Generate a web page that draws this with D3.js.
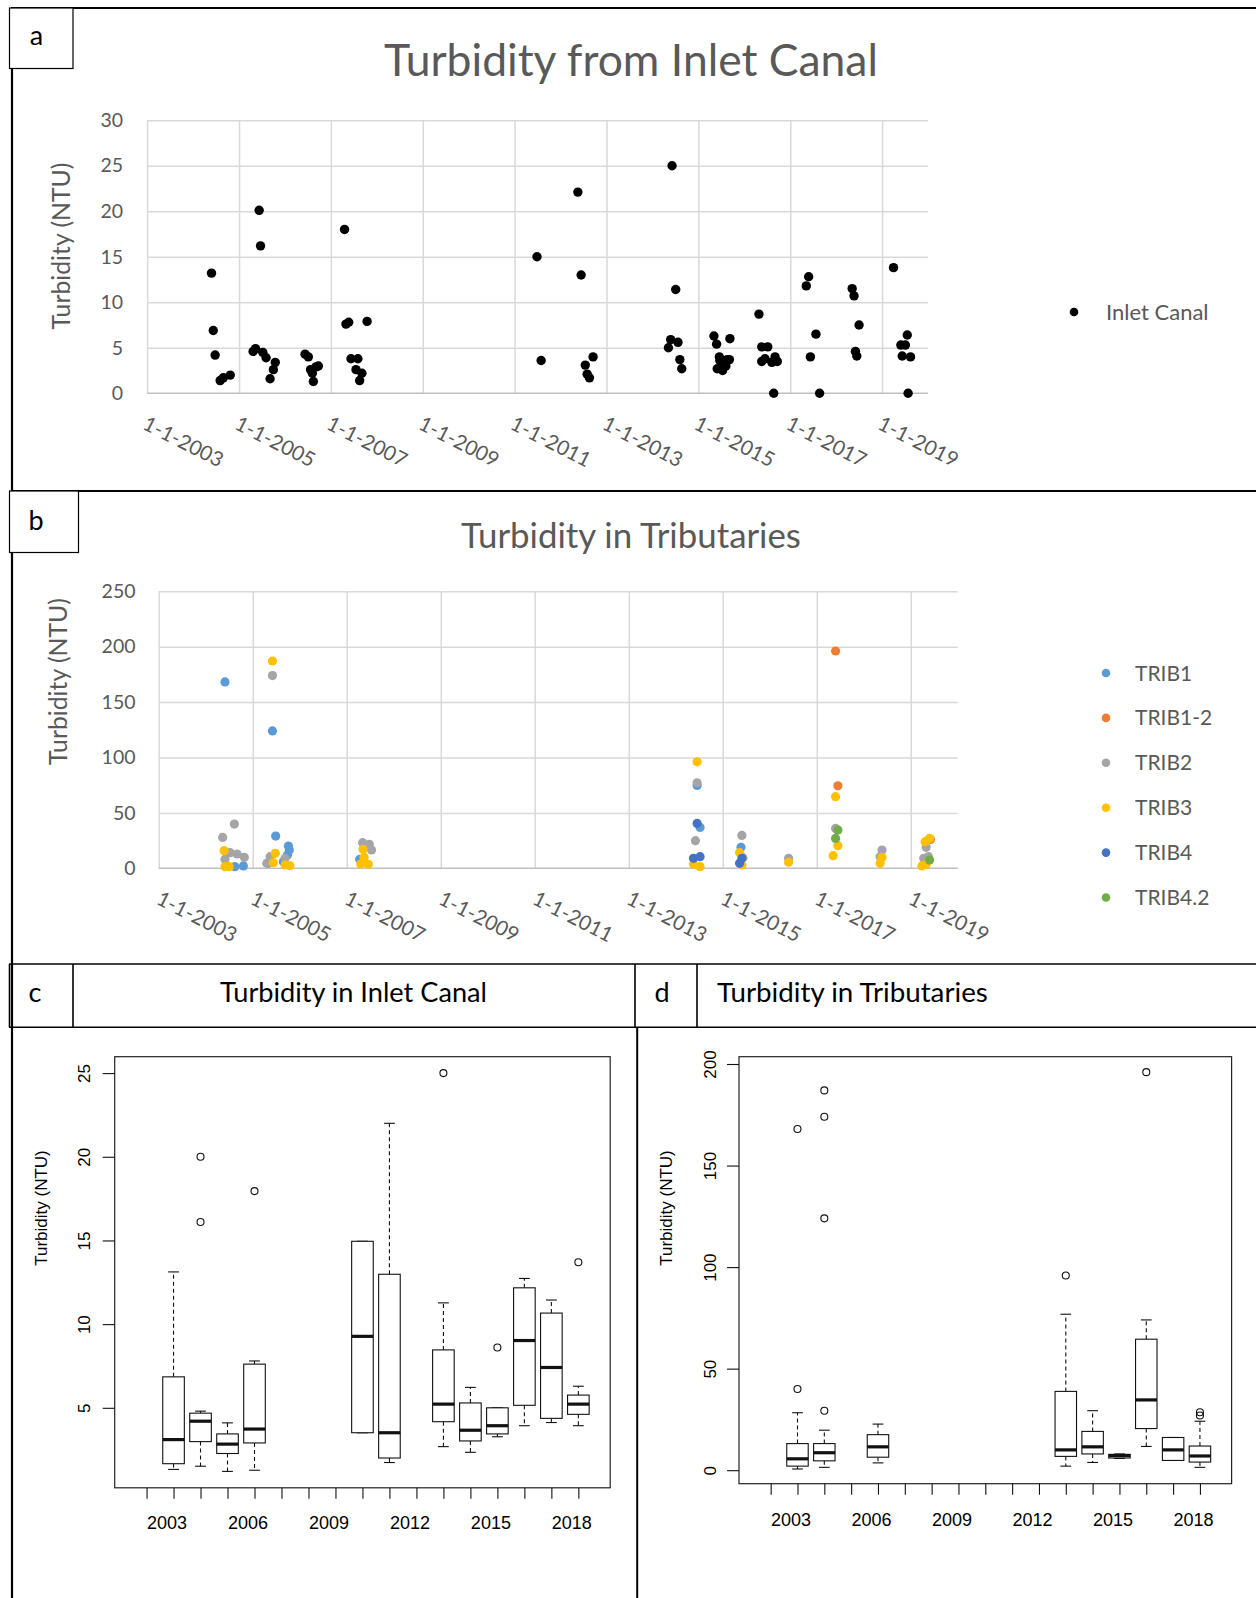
<!DOCTYPE html>
<html>
<head>
<meta charset="utf-8">
<script src="https://cdn.jsdelivr.net/npm/d3@7"></script>
<style>
  body { margin: 0; background: #fff; }
  svg { display: block; }
</style>
</head>
<body>
<svg id="fig" width="1256" height="1598"></svg>
<script>
// ---------- data ----------
// panel a: inlet canal samples [date, NTU]
const inletCanal = [
  ['2004-05-27', 13.2], ['2004-06-10', 6.9], ['2004-06-25', 4.2], ['2004-08-04', 1.4], ['2004-08-29', 1.7], ['2004-10-23', 2.0],
  ['2005-04-23', 4.6], ['2005-05-12', 4.9], ['2005-06-10', 20.1], ['2005-06-21', 16.2], ['2005-07-09', 4.5], ['2005-08-04', 3.9],
  ['2005-09-05', 1.6], ['2005-10-01', 2.6], ['2005-10-16', 3.4],
  ['2006-06-10', 4.3], ['2006-07-06', 4.0], ['2006-07-24', 2.6], ['2006-08-07', 2.2], ['2006-08-15', 1.3], ['2006-09-05', 2.9], ['2006-09-24', 3.0],
  ['2007-04-20', 18.0], ['2007-05-01', 7.6], ['2007-05-23', 7.8], ['2007-06-10', 3.8], ['2007-07-20', 2.6], ['2007-08-04', 3.8],
  ['2007-08-18', 1.4], ['2007-09-05', 2.2], ['2007-10-16', 7.9],
  ['2011-06-28', 15.0], ['2011-07-31', 3.6],
  ['2012-05-18', 22.1], ['2012-06-13', 13.0], ['2012-07-16', 3.1], ['2012-07-31', 2.1], ['2012-08-18', 1.7], ['2012-09-16', 4.0],
  ['2014-05-08', 5.0], ['2014-05-26', 5.9], ['2014-06-06', 25.0], ['2014-07-05', 11.4], ['2014-07-23', 5.6], ['2014-08-07', 3.7], ['2014-08-22', 2.7],
  ['2015-05-05', 6.3], ['2015-05-26', 5.4], ['2015-05-31', 2.7], ['2015-06-17', 4.0], ['2015-06-21', 3.6], ['2015-07-05', 3.3],
  ['2015-07-13', 2.5], ['2015-08-08', 3.0], ['2015-08-18', 3.7], ['2015-09-05', 3.7], ['2015-09-09', 6.0],
  ['2016-04-27', 8.7], ['2016-05-19', 5.1], ['2016-05-19', 3.5], ['2016-06-14', 3.8], ['2016-07-06', 5.1], ['2016-08-07', 3.4],
  ['2016-08-22', 0.0], ['2016-09-02', 4.0], ['2016-09-20', 3.5],
  ['2017-05-08', 11.8], ['2017-05-27', 12.8], ['2017-06-10', 4.0], ['2017-07-24', 6.5], ['2017-08-22', 0.0],
  ['2018-05-08', 11.5], ['2018-05-23', 10.7], ['2018-06-03', 4.6], ['2018-06-14', 4.1], ['2018-07-02', 7.5],
  ['2019-04-02', 13.8], ['2019-05-30', 5.3], ['2019-06-10', 4.1], ['2019-07-05', 5.3], ['2019-07-20', 6.4], ['2019-07-27', 0.0], ['2019-08-15', 4.0]
];

// panel b: tributary samples [date, NTU]
const trib1 = [
  ['2004-05-30', 168.2], ['2004-08-15', 1.5], ['2004-10-20', 2.1],
  ['2005-05-01', 4.5], ['2005-06-03', 124.0], ['2005-06-28', 29.1], ['2005-08-26', 6.0], ['2005-09-27', 12.0], ['2005-10-05', 20.1], ['2005-10-12', 16.5],
  ['2007-04-12', 8.1],
  ['2014-06-16', 74.8], ['2014-07-09', 36.9],
  ['2015-05-23', 18.9]
];
const trib12 = [['2017-05-27', 196.1], ['2017-06-14', 74.5], ['2019-06-03', 26.1]];
const trib2 = [
  ['2004-05-12', 27.9], ['2004-05-30', 8.1], ['2004-07-09', 14.1], ['2004-08-11', 39.9], ['2004-09-02', 12.9], ['2004-10-27', 9.9],
  ['2005-04-20', 4.5], ['2005-05-16', 10.5], ['2005-06-03', 173.9], ['2005-09-09', 9.0],
  ['2007-05-05', 23.1], ['2007-06-25', 21.6], ['2007-07-13', 16.5],
  ['2014-06-03', 24.9], ['2014-06-16', 77.2],
  ['2015-05-30', 29.7], ['2015-06-07', 9.6],
  ['2016-05-27', 9.0],
  ['2017-05-27', 36.0],
  ['2018-05-08', 10.5], ['2018-05-23', 16.5],
  ['2019-04-12', 9.0], ['2019-05-01', 18.9], ['2019-05-19', 10.5]
];
const trib3 = [
  ['2004-05-23', 15.9], ['2004-05-30', 1.5], ['2004-07-02', 1.5],
  ['2005-06-03', 187.1], ['2005-06-10', 5.1], ['2005-06-25', 13.5], ['2005-09-09', 3.0], ['2005-10-16', 2.4],
  ['2007-04-20', 3.9], ['2007-05-08', 17.1], ['2007-05-16', 9.9], ['2007-06-18', 3.6],
  ['2014-05-19', 3.6], ['2014-06-16', 96.1], ['2014-07-09', 1.5],
  ['2015-05-12', 14.1], ['2015-05-30', 3.0],
  ['2016-05-27', 5.4],
  ['2017-05-08', 11.4], ['2017-05-27', 64.6], ['2017-06-14', 20.4],
  ['2018-05-08', 4.5], ['2018-05-23', 9.9],
  ['2019-03-29', 2.1], ['2019-04-23', 24.0], ['2019-05-01', 3.6], ['2019-05-27', 27.0]
];
const trib4 = [['2014-05-19', 9.0], ['2014-06-16', 40.5], ['2014-07-09', 10.5], ['2015-05-12', 4.5], ['2015-05-30', 9.0]];
const trib42 = [['2017-05-27', 27.0], ['2017-06-14', 34.5], ['2019-05-27', 7.5]];

const tribNames = ['TRIB1', 'TRIB1-2', 'TRIB2', 'TRIB3', 'TRIB4', 'TRIB4.2'];
const tribColors = ['#5b9bd5', '#ed7d31', '#a5a5a5', '#ffc000', '#4472c4', '#70ad47'];

const dateTickYears = [2003, 2005, 2007, 2009, 2011, 2013, 2015, 2017, 2019];
const canalYTicks = [0, 5, 10, 15, 20, 25, 30];
const tribYTicks = [0, 50, 100, 150, 200, 250];

// panels c, d: boxplot stats [year, lower whisker, Q1, median, Q3, upper whisker]
const canalBoxes = [
  [2003, 1.32, 1.66, 3.10, 6.85, 13.12],
  [2004, 1.51, 2.98, 4.20, 4.68, 4.80],
  [2005, 1.20, 2.27, 2.83, 3.44, 4.10],
  [2006, 1.27, 2.90, 3.73, 7.61, 7.80],
  [2010, 3.51, 3.51, 9.27, 14.95, 14.95],
  [2011, 1.73, 2.00, 3.51, 12.98, 22.00],
  [2013, 2.68, 4.17, 5.22, 8.46, 11.27],
  [2014, 2.34, 3.02, 3.66, 5.29, 6.22],
  [2015, 3.27, 3.44, 3.93, 5.00, 5.00],
  [2016, 3.93, 5.15, 9.02, 12.17, 12.73],
  [2017, 4.12, 4.37, 7.41, 10.66, 11.44],
  [2018, 3.93, 4.61, 5.22, 5.76, 6.29]
];
const canalOutliers = [[2004, 20.0], [2004, 16.1], [2006, 17.95], [2013, 25.0], [2015, 8.6], [2018, 13.7]];

const tribBoxes = [
  [2003, 0.6, 2.0, 5.6, 13.1, 28.3],
  [2004, 1.4, 4.6, 8.6, 13.1, 19.7],
  [2006, 3.6, 6.4, 11.5, 17.5, 22.7],
  [2013, 2.0, 6.8, 10.0, 38.8, 76.8],
  [2014, 3.8, 8.0, 11.5, 19.1, 29.3],
  [2015, 5.8, 6.0, 7.2, 7.8, 8.0],
  [2016, 11.7, 20.5, 34.6, 64.5, 74.0],
  [2017, 4.8, 4.8, 10.0, 16.1, 16.1],
  [2018, 1.4, 4.0, 7.0, 11.9, 24.1]
];
const tribOutliers = [
  [2003, 40.0], [2003, 168.0], [2004, 29.3], [2004, 124.0], [2004, 174.0], [2004, 187.0],
  [2013, 95.9], [2016, 196.0], [2018, 26.9], [2018, 28.5]
];

const boxTickYears = [2002, 2003, 2004, 2005, 2006, 2007, 2008, 2009, 2010, 2011, 2012, 2013, 2014, 2015, 2016, 2017, 2018];
const boxLabelYears = [2003, 2006, 2009, 2012, 2015, 2018];
const canalBoxYTicks = [5, 10, 15, 20, 25];
const tribBoxYTicks = [0, 50, 100, 150, 200];

// ---------- drawing ----------
const svg = d3.select('#fig');
const excelFont = 'Lato, "Open Sans", sans-serif';
const excelGrey = '#595959';
const rFont = '"Liberation Sans", Arial, sans-serif';
const parseDate = d3.timeParse('%Y-%m-%d');

svg.append('rect').attr('width', 1256).attr('height', 1598).attr('fill', '#fff');

function fitWidth(sel, width) {
  const size = parseFloat(sel.attr('font-size'));
  const len = sel.node().getComputedTextLength();
  sel.attr('font-size', size * width / len);
  return sel;
}

function drawScatter(o) {
  const g = svg.append('g');
  const x = d3.scaleTime()
    .domain([new Date(2003, 0, 1), new Date(2020, 0, 1)])
    .range([o.left, o.right]);
  const y = d3.scaleLinear().domain([0, o.yMax]).range([o.bottom, o.top]);
  const tickDates = dateTickYears.map(yr => new Date(yr, 0, 1));

  // gridlines
  g.append('g')
    .attr('transform', `translate(${o.left},0)`)
    .call(d3.axisLeft(y).tickValues(o.yTicks.slice(1)).tickSize(-(o.right - o.left)).tickFormat(''))
    .call(a => a.select('.domain').remove())
    .call(a => a.selectAll('line').attr('stroke', '#d9d9d9').attr('stroke-width', 1.5));
  g.append('g')
    .attr('transform', `translate(0,${o.bottom})`)
    .call(d3.axisBottom(x).tickValues(tickDates).tickSize(-(o.bottom - o.top)).tickFormat(''))
    .call(a => a.select('.domain').remove())
    .call(a => a.selectAll('line').attr('stroke', '#d9d9d9').attr('stroke-width', 1.5));
  g.append('line')
    .attr('x1', o.left).attr('x2', o.right)
    .attr('y1', y(0)).attr('y2', y(0))
    .attr('stroke', '#bfbfbf').attr('stroke-width', 1.5);

  // y tick labels
  g.append('g')
    .attr('transform', `translate(${o.left},0)`)
    .call(d3.axisLeft(y).tickValues(o.yTicks).tickSize(0).tickPadding(o.left - o.labelRight))
    .call(a => a.select('.domain').remove())
    .call(a => a.selectAll('text')
      .attr('font-family', excelFont).attr('font-size', 19.5).attr('fill', excelGrey));

  // x tick labels, rotated
  g.append('g')
    .attr('transform', `translate(0,${o.bottom})`)
    .call(d3.axisBottom(x).tickValues(tickDates).tickSize(0).tickFormat(d3.timeFormat('%-d-%-m-%Y')))
    .call(a => a.select('.domain').remove())
    .call(a => a.selectAll('text')
      .attr('x', 0).attr('y', 0).attr('dy', 0)
      .attr('text-anchor', 'start')
      .attr('transform', `translate(${o.labelDx},35) rotate(27)`)
      .attr('font-family', excelFont).attr('font-size', 20.5).attr('fill', excelGrey));

  // axis title
  const yt = g.append('text')
    .attr('transform', `translate(${o.yTitleX},${o.yTitleY}) rotate(-90)`)
    .attr('text-anchor', 'middle').attr('dy', '0.35em')
    .attr('font-family', excelFont).attr('font-size', 20).attr('fill', excelGrey)
    .text('Turbidity (NTU)');
  fitWidth(yt, 167);

  // points
  o.series.forEach((s, i) => {
    g.append('g').selectAll('circle').data(s).join('circle')
      .attr('cx', d => x(parseDate(d[0])))
      .attr('cy', d => y(d[1]))
      .attr('r', o.r)
      .attr('fill', o.colors[i]);
  });

  // legend
  o.names.forEach((name, i) => {
    const ly = o.legendY + i * o.legendStep;
    g.append('circle').attr('cx', o.legendX).attr('cy', ly).attr('r', 4.3).attr('fill', o.colors[i]);
    g.append('text')
      .attr('x', o.legendX + o.legendGap).attr('y', ly).attr('dy', '0.36em')
      .attr('font-family', excelFont).attr('font-size', o.legendSize).attr('fill', excelGrey)
      .text(name);
  });

  // title
  const t = svg.append('text')
    .attr('x', o.titleX).attr('y', o.titleY)
    .attr('text-anchor', 'middle')
    .attr('font-family', excelFont).attr('font-size', 40).attr('fill', excelGrey)
    .text(o.title);
  fitWidth(t, o.titleWidth);
}

function drawBoxPanel(o) {
  const g = svg.append('g');
  const ink = '#111';
  const x = d3.scaleLinear().domain([2000.82, 2019.18]).range([o.left, o.right]);
  const y = d3.scaleLinear().domain(o.yDomain).range([o.bottom, o.top]);
  const half = x(2003.4) - x(2003);
  const cap = half / 2;

  // whiskers
  const wh = g.append('g').attr('stroke', ink).attr('stroke-width', 1.1);
  wh.selectAll('line.up').data(o.boxes).join('line')
    .attr('x1', d => x(d[0])).attr('x2', d => x(d[0]))
    .attr('y1', d => y(d[4])).attr('y2', d => y(d[5]))
    .attr('stroke-dasharray', '4,3');
  wh.selectAll('line.down').data(o.boxes).join('line')
    .attr('x1', d => x(d[0])).attr('x2', d => x(d[0]))
    .attr('y1', d => y(d[2])).attr('y2', d => y(d[1]))
    .attr('stroke-dasharray', '4,3');
  wh.selectAll('line.capHi').data(o.boxes).join('line')
    .attr('x1', d => x(d[0]) - cap).attr('x2', d => x(d[0]) + cap)
    .attr('y1', d => y(d[5])).attr('y2', d => y(d[5]));
  wh.selectAll('line.capLo').data(o.boxes).join('line')
    .attr('x1', d => x(d[0]) - cap).attr('x2', d => x(d[0]) + cap)
    .attr('y1', d => y(d[1])).attr('y2', d => y(d[1]));

  // boxes and medians
  g.selectAll('rect.box').data(o.boxes).join('rect')
    .attr('x', d => x(d[0]) - half)
    .attr('width', half * 2)
    .attr('y', d => y(d[4]))
    .attr('height', d => y(d[2]) - y(d[4]))
    .attr('fill', '#fff').attr('stroke', ink).attr('stroke-width', 1.1);
  g.selectAll('line.med').data(o.boxes).join('line')
    .attr('x1', d => x(d[0]) - half).attr('x2', d => x(d[0]) + half)
    .attr('y1', d => y(d[3])).attr('y2', d => y(d[3]))
    .attr('stroke', ink).attr('stroke-width', 3.2);

  // outliers
  g.selectAll('circle').data(o.outliers).join('circle')
    .attr('cx', d => x(d[0])).attr('cy', d => y(d[1]))
    .attr('r', 3.5).attr('fill', 'none').attr('stroke', ink).attr('stroke-width', 1.1);

  // frame
  g.append('rect')
    .attr('x', o.left).attr('y', o.top)
    .attr('width', o.right - o.left).attr('height', o.bottom - o.top)
    .attr('fill', 'none').attr('stroke', '#222').attr('stroke-width', 1.2);

  // axes
  g.append('g')
    .attr('transform', `translate(0,${o.bottom})`)
    .call(d3.axisBottom(x).tickValues(boxTickYears).tickSize(11).tickPadding(o.xPad)
      .tickFormat(d => boxLabelYears.includes(d) ? d : ''))
    .call(a => a.select('.domain').remove())
    .call(a => a.selectAll('line').attr('stroke', ink).attr('stroke-width', 1.1))
    .call(a => a.selectAll('text').attr('dx', -7)
      .attr('font-family', rFont).attr('font-size', 18).attr('fill', '#000'));
  g.append('g')
    .attr('transform', `translate(${o.left},0)`)
    .call(d3.axisLeft(y).tickValues(o.yTicks).tickSize(12))
    .call(a => a.select('.domain').remove())
    .call(a => a.selectAll('line').attr('stroke', ink).attr('stroke-width', 1.1))
    .call(a => a.selectAll('text')
      .attr('x', 0).attr('dy', '0.35em')
      .attr('text-anchor', 'middle')
      .attr('transform', `translate(${o.yLabelDx},0) rotate(-90)`)
      .attr('font-family', rFont).attr('font-size', 17).attr('fill', '#000'));

  g.append('text')
    .attr('transform', `translate(${o.left + o.yTitleDx},1208) rotate(-90)`)
    .attr('text-anchor', 'middle').attr('dy', '0.35em')
    .attr('font-family', rFont).attr('font-size', 17).attr('fill', '#000')
    .text('Turbidity (NTU)');
}

// ---------- frame / table lines ----------
function hline(x1, x2, yy, w) {
  svg.append('line').attr('x1', x1).attr('x2', x2).attr('y1', yy).attr('y2', yy)
    .attr('stroke', '#000').attr('stroke-width', w);
}
function vline(xx, y1, y2, w) {
  svg.append('line').attr('x1', xx).attr('x2', xx).attr('y1', y1).attr('y2', y2)
    .attr('stroke', '#000').attr('stroke-width', w);
}
function letter(txt, cx, by) {
  svg.append('text').attr('x', cx).attr('y', by).attr('text-anchor', 'middle')
    .attr('font-family', excelFont).attr('font-size', 27).attr('fill', '#000').text(txt);
}

hline(11, 1256, 8, 2.2);
vline(12, 8, 1598, 2.2);
hline(11, 1256, 491, 2.2);
svg.append('rect').attr('x', 9.5).attr('y', 8).attr('width', 63.5).attr('height', 60.5)
  .attr('fill', '#fff').attr('stroke', '#000').attr('stroke-width', 1.2);
svg.append('rect').attr('x', 9.5).attr('y', 491).attr('width', 69).attr('height', 61.5)
  .attr('fill', '#fff').attr('stroke', '#000').attr('stroke-width', 1.2);
letter('a', 36.5, 45);
letter('b', 36, 530);

// header row of c / d
hline(9, 1256, 964, 1.6);
hline(9, 1256, 1027.3, 1.6);
vline(9.5, 964, 1027.3, 1.6);
vline(73, 964, 1027.3, 1.6);
vline(635, 964, 1027.3, 1.6);
vline(697, 964, 1027.3, 1.6);
vline(637.2, 1027.3, 1598, 2);
letter('c', 35, 1002);
letter('d', 662, 1002);
const tc = svg.append('text').attr('x', 353.5).attr('y', 1002).attr('text-anchor', 'middle')
  .attr('font-family', excelFont).attr('font-size', 27).attr('fill', '#000').text('Turbidity in Inlet Canal');
fitWidth(tc, 267);
const td = svg.append('text').attr('x', 717).attr('y', 1002).attr('text-anchor', 'start')
  .attr('font-family', excelFont).attr('font-size', 27).attr('fill', '#000').text('Turbidity in Tributaries');
fitWidth(td, 271);

// ---------- panels ----------
drawScatter({
  left: 147.1, right: 928, top: 120.2, bottom: 393.3, yMax: 30, yTicks: canalYTicks,
  labelRight: 123, yTitleX: 61, yTitleY: 246, labelDx: -6,
  series: [inletCanal], names: ['Inlet Canal'], colors: ['#000'], r: 4.7,
  legendX: 1074, legendY: 312, legendStep: 0, legendGap: 32, legendSize: 22,
  title: 'Turbidity from Inlet Canal', titleX: 631, titleY: 76, titleWidth: 494
});

drawScatter({
  left: 158.7, right: 957.7, top: 591.3, bottom: 868.3, yMax: 250, yTicks: tribYTicks,
  labelRight: 135.5, yTitleX: 58, yTitleY: 681.5, labelDx: -4,
  series: [trib1, trib12, trib2, trib3, trib4, trib42], names: tribNames, colors: tribColors, r: 4.6,
  legendX: 1106, legendY: 673, legendStep: 44.9, legendGap: 29, legendSize: 21,
  title: 'Turbidity in Tributaries', titleX: 631, titleY: 548, titleWidth: 340
});

drawBoxPanel({
  left: 114.7, right: 610.2, top: 1056.7, bottom: 1487.8, yDomain: [0.22, 25.98],
  yTicks: canalBoxYTicks, boxes: canalBoxes, outliers: canalOutliers, xPad: 17,
  yLabelDx: -31, yTitleDx: -73.5
});

drawBoxPanel({
  left: 739, right: 1231.6, top: 1056.7, bottom: 1483.7, yDomain: [-6.65, 203.6],
  yTicks: tribBoxYTicks, boxes: tribBoxes, outliers: tribOutliers, xPad: 18.5,
  yLabelDx: -29.2, yTitleDx: -72.7
});
</script>
</body>
</html>
